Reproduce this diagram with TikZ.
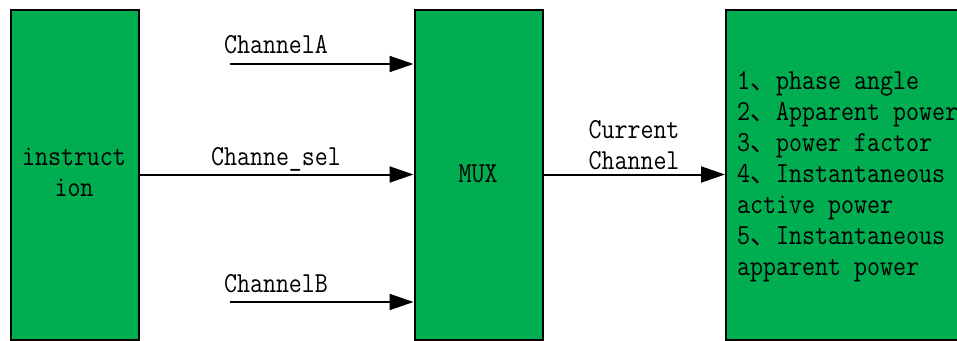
\documentclass[tikz,border=0pt]{standalone}
\usepackage{fontspec}
\usetikzlibrary{arrows.meta}
\newfontfamily\monof[FakeStretch=0.87]{Latin Modern Mono}
\newfontfamily\cjkf{Noto Sans CJK SC}
\newcommand{\dun}{{\cjkf\fontsize{26}{31}\selectfont 、}}
\definecolor{boxgreen}{RGB}{0,173,80}
\begin{document}
\begin{tikzpicture}[x=1pt,y=-1pt,
  blk/.style={draw=black,line width=2pt,fill=boxgreen,inner sep=0pt,minimum width=128pt,minimum height=330pt},
  lbl/.style={font=\monof\fontsize{29}{31}\selectfont,inner sep=0pt},
  arr/.style={line width=2pt,-{Triangle[length=24pt,width=16pt]}}]
\clip (0,0) rectangle (957,340);
\node[blk] (instr) at (74.5,174.5) {};
\node[blk] (mux) at (478.5,174.5) {};
\node[blk,minimum width=274pt] (out) at (863,174.5) {};
\coordinate (a0) at (230,64);
\coordinate (b0) at (230,302);
\draw[arr] (a0) -- (a0 -| mux.west);
\draw[arr] (instr) -- (mux);
\draw[arr] (b0) -- (b0 -| mux.west);
\draw[arr] (mux) -- (out);
\node[lbl,align=center] (instrt) at (74,172) {instruct\\ion};
\node[lbl] (muxt) at (478,174) {MUX};
\node[lbl,anchor=base] (la) at (276,53.5) {ChannelA};
\node[lbl,anchor=base] (ls) at (276,165.7) {Channe\_sel};
\node[lbl,anchor=base] (lb) at (276,292) {ChannelB};
\node[lbl,align=center] (lc) at (634,145) {Current\\Channel};
\node[lbl,align=left,anchor=west] (outt) at (737,176.5) {1\dun phase angle\\2\dun Apparent power\\3\dun power factor\\4\dun Instantaneous\\active power\\5\dun Instantaneous\\apparent power};
\end{tikzpicture}
\end{document}
